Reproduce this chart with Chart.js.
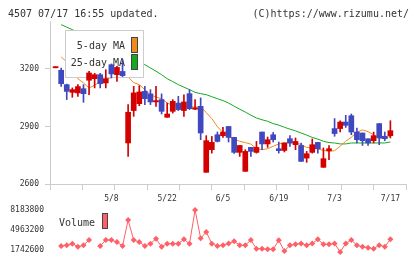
<!DOCTYPE html>
<html>
<head>
<meta charset="utf-8">
<script src="https://cdn.jsdelivr.net/npm/chart.js@4.4.1/dist/chart.umd.min.js"></script>
<style>
  html, body { margin: 0; padding: 0; background: #fff; }
  #wrap { position: relative; width: 420px; height: 259px; overflow: hidden; }
  canvas { position: absolute; left: 0; }
  #price { top: 0; }
  #vol { top: 195px; }
</style>
</head>
<body>
<div id="wrap">
  <canvas id="price" width="420" height="205"></canvas>
  <canvas id="vol" width="420" height="71"></canvas>
</div>
<script>
// daily bars, 4/24 .. 7/17
var dates = ['4/24','4/25','4/26','4/29','4/30','5/1','5/2','5/3','5/6','5/7',
  '5/8','5/9','5/10','5/13','5/14','5/15','5/16','5/17','5/20','5/21',
  '5/22','5/23','5/24','5/27','5/28','5/29','5/30','5/31','6/3','6/4',
  '6/5','6/6','6/7','6/10','6/11','6/12','6/13','6/14','6/17','6/18',
  '6/19','6/20','6/21','6/24','6/25','6/26','6/27','6/28','7/1','7/2',
  '7/3','7/4','7/5','7/8','7/9','7/10','7/11','7/12','7/15','7/16','7/17'];
var tickDays = ['5/8', '5/22', '6/5', '6/19', '7/3', '7/17'];

var opens = [3206,3193,3118,3078,3075,3097,3141,3149,3170,3127,
  3222,3170,3187,2814,2983,3019,3083,3070,3028,3040,
  2948,2979,3022,2983,3071,2990,3005,2661,2779,2857,
  2852,2900,2843,2765,2666,2791,2765,2871,2809,2857,
  2784,2775,2836,2805,2801,2735,2765,2817,2687,2774,
  2889,2889,2923,2956,2871,2866,2836,2826,2915,2849,2852];
var highs = [3212,3205,3121,3101,3118,3118,3188,3177,3177,3196,
  3226,3214,3248,3014,3109,3113,3109,3092,3109,3070,
  3022,3040,3057,3065,3092,3040,3049,2852,2848,2871,
  2895,2900,2843,2801,2779,2791,2822,2871,2845,2869,
  2819,2814,2852,2840,2814,2770,2835,2817,2788,2801,
  2941,2930,2958,2965,2892,2866,2836,2871,2915,2871,2930];
var lows = [3206,3109,3040,3052,3057,3026,3066,3101,3101,3101,
  3153,3135,3160,2744,2953,3008,3014,3014,3005,2965,
  2948,2970,2983,2953,2988,2988,2831,2661,2761,2819,
  2843,2819,2760,2744,2666,2744,2761,2779,2791,2819,
  2761,2767,2796,2779,2718,2713,2761,2761,2687,2727,
  2849,2871,2895,2857,2814,2801,2801,2814,2805,2826,2840];
var closes = [3212,3123,3083,3092,3108,3071,3179,3170,3123,3149,
  3174,3208,3165,2974,3075,3080,3045,3028,3035,2979,
  2965,3031,2988,3028,2993,2997,2866,2826,2817,2822,
  2871,2843,2765,2801,2770,2770,2791,2809,2831,2831,
  2774,2814,2814,2822,2718,2758,2805,2784,2732,2784,
  2863,2923,2906,2871,2831,2826,2814,2852,2840,2836,2878];

var ma5 = [null,3263,3236,3191,3149,3127,3101,3115,3134,3147,
  3155,3158,3165,3158,3129,3118,3092,3066,3053,3045,
  3022,3011,3009,3006,3003,3000,3005,2972,2941,2899,
  2868,2847,2834,2823,2816,2808,2784,2779,2784,2797,
  2809,2814,2814,2814,2806,2791,2787,2782,2776,2769,
  2774,2797,2823,2844,2870,2882,2873,2857,2839,2840,2849];
var ma25 = [null,3431,3418,3405,3391,3377,3363,3349,3335,3321,
  3307,3293,3280,3264,3248,3235,3222,3205,3188,3170,
  3149,3134,3118,3105,3092,3078,3071,3066,3055,3045,
  3035,3022,3006,2990,2975,2959,2944,2935,2927,2915,
  2907,2896,2886,2877,2866,2855,2843,2834,2823,2816,
  2814,2809,2809,2814,2814,2814,2814,2814,2814,2814,2819];

var volumes = [null,2390000,2500000,2760000,2270000,2500000,3350000,null,2390000,3350000,
  3350000,3030000,2390000,6570000,3350000,3030000,2390000,2760000,3560000,2270000,
  2760000,2760000,2760000,3460000,2760000,8183800,3620000,4640000,2760000,2390000,
  2500000,2800000,3140000,2500000,2500000,3350000,1950000,1950000,1850000,1850000,
  3300000,1580000,2500000,2650000,2800000,2500000,2800000,3460000,2650000,2650000,
  2800000,1420000,2800000,3350000,2500000,2270000,2110000,1950000,2500000,2270000,3460000];

var priceTicks = [2600, 2900, 3200];
var volTicks = [1742600, 4963200, 8183800];

var RED = '#d40000', BLUE = '#4048c0', ORANGE = '#f08a1c', GREEN = '#14aa20', VOL = '#ff5f66';
var GRAY = '#cccccc', TXT = '#333333';

Chart.defaults.font.family = '"DejaVu Sans Mono", monospace';
Chart.defaults.animation = false;

function xy(arr) {
  return arr.map(function (v, i) { return { x: i, y: v }; });
}
var candleColors = closes.map(function (c, i) { return c >= opens[i] ? RED : BLUE; });

var header = {
  id: 'header',
  afterDraw: function (chart) {
    var c = chart.ctx;
    c.save();
    c.font = '10px "DejaVu Sans Mono"';
    c.fillStyle = TXT;
    c.textBaseline = 'alphabetic';
    c.textAlign = 'left';
    c.fillText('4507 07/17 16:55 updated.', 8, 16.5);
    c.textAlign = 'right';
    c.fillText('(C)https://www.rizumu.net/', 409, 16.5);
    c.restore();
  }
};

// legend box sits above the MA lines but under the candles
var maLegend = {
  id: 'maLegend',
  afterDatasetDraw: function (chart, args) {
    if (args.index !== 1) return;
    var c = chart.ctx;
    c.save();
    c.fillStyle = '#fff';
    c.fillRect(65, 30, 79, 48);
    c.strokeStyle = GRAY;
    c.lineWidth = 1;
    c.strokeRect(65.5, 30.5, 78, 47);
    c.font = '10px "DejaVu Sans Mono"';
    c.fillStyle = TXT;
    c.textAlign = 'right';
    c.fillText('5-day MA', 125, 49);
    c.fillText('25-day MA', 125, 65.5);
    c.strokeStyle = '#444';
    c.fillStyle = ORANGE;
    c.fillRect(131, 37, 7, 16);
    c.strokeRect(131.5, 37.5, 6, 15);
    c.fillStyle = GREEN;
    c.fillRect(131, 54, 7, 16);
    c.strokeRect(131.5, 54.5, 6, 15);
    c.restore();
  }
};

var volLegend = {
  id: 'volLegend',
  afterDraw: function (chart) {
    var c = chart.ctx;
    c.save();
    c.font = '10px "DejaVu Sans Mono"';
    c.fillStyle = TXT;
    c.textAlign = 'left';
    c.fillText('Volume', 59, 31);
    c.fillStyle = VOL;
    c.fillRect(102, 18, 6, 16);
    c.strokeStyle = '#444';
    c.strokeRect(102.5, 18.5, 5, 15);
    c.restore();
  }
};

new Chart(document.getElementById('price'), {
  type: 'bar',
  data: {
    datasets: [
      { type: 'line', label: '25-day MA', data: xy(ma25), borderColor: GREEN, borderWidth: 1, pointRadius: 0, order: 4 },
      { type: 'line', label: '5-day MA', data: xy(ma5), borderColor: ORANGE, borderWidth: 1, pointRadius: 0, order: 3 },
      { label: 'range', data: lows.map(function (l, i) { return { x: i, y: [l, highs[i]] }; }),
        backgroundColor: candleColors, grouped: false, categoryPercentage: 1, barPercentage: 1, maxBarThickness: 1, order: 2 },
      { label: 'body', data: opens.map(function (o, i) { return { x: i, y: [o, closes[i]] }; }),
        backgroundColor: candleColors, grouped: false, categoryPercentage: 1, barPercentage: 1, maxBarThickness: 5, minBarLength: 1, order: 1 }
    ]
  },
  options: {
    responsive: false,
    devicePixelRatio: 1,
    layout: { padding: { top: 21, right: 14, left: 0, bottom: 0 } },
    plugins: { legend: { display: false }, tooltip: { enabled: false } },
    scales: {
      x: {
        type: 'linear', min: -1, max: 62.8, offset: false,
        afterBuildTicks: function (s) {
          var t = [];
          for (var k = 0; k <= 11; k++) t.push({ value: s.min + k * (s.max - s.min) / 11 });
          tickDays.forEach(function (d) { t.push({ value: dates.indexOf(d), lab: true }); });
          s.ticks = t;
        },
        afterFit: function (s) { s.height = 21; },
        grid: {
          offset: false, drawOnChartArea: false, tickLength: 6,
          tickColor: function (ctx) { return ctx.tick && ctx.tick.lab ? 'rgba(0,0,0,0)' : GRAY; }
        },
        border: { color: GRAY },
        ticks: {
          autoSkip: false, maxRotation: 0, minRotation: 0, padding: 4, color: TXT, font: { size: 8 },
          callback: function (v, i, ticks) { return ticks[i].lab ? dates[v] : ''; }
        }
      },
      y: {
        min: 2600, max: 3450,
        afterBuildTicks: function (s) { s.ticks = priceTicks.map(function (v) { return { value: v }; }); },
        afterFit: function (s) { s.width = 50; },
        grid: { drawOnChartArea: false, tickLength: 5, color: GRAY },
        border: { color: GRAY },
        ticks: { padding: 6, color: TXT, font: { size: 8 }, callback: function (v) { return String(v); } }
      }
    }
  },
  plugins: [header, maLegend]
});

new Chart(document.getElementById('vol'), {
  type: 'line',
  data: {
    datasets: [{
      label: 'Volume', data: xy(volumes), borderColor: VOL, borderWidth: 1,
      pointStyle: 'rectRot', pointRadius: 3, pointBackgroundColor: VOL, pointBorderWidth: 0,
      spanGaps: false, clip: false
    }]
  },
  options: {
    responsive: false,
    devicePixelRatio: 1,
    layout: { padding: { top: 5, right: 14, left: 0, bottom: 5 } },
    plugins: { legend: { display: false }, tooltip: { enabled: false } },
    scales: {
      x: { type: 'linear', min: -1, max: 62.8, offset: false, display: false },
      y: {
        min: 905244, max: 8860126,
        afterBuildTicks: function (s) { s.ticks = volTicks.map(function (v) { return { value: v }; }); },
        afterFit: function (s) { s.width = 50; },
        grid: { display: false, drawTicks: false },
        border: { display: false },
        ticks: { padding: 6, color: TXT, font: { size: 8 }, callback: function (v) { return String(v); } }
      }
    }
  },
  plugins: [volLegend]
});
</script>
</body>
</html>
